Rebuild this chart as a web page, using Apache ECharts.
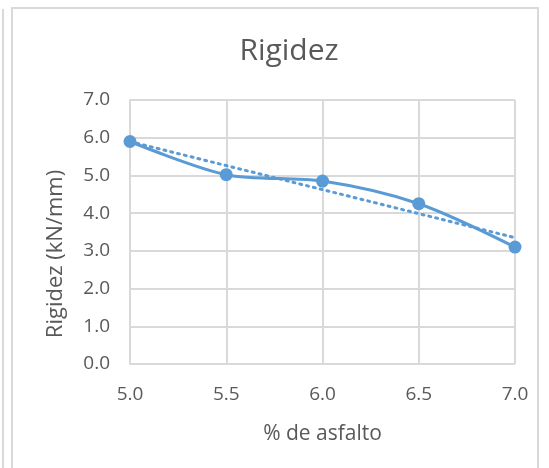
<!DOCTYPE html>
<html>
<head>
<meta charset="utf-8">
<script src="https://cdn.jsdelivr.net/npm/echarts@6/dist/echarts.min.js"></script>
<style>
  html, body { margin: 0; padding: 0; background: #fff; }
  #frame { position: absolute; left: 11px; top: 7px; width: 528px; height: 470px; border: 2px solid #d9d9d9; box-sizing: border-box; }
  #side { position: absolute; left: 2px; top: 9px; width: 2px; height: 470px; background: #d9d9d9; }
  #chart { position: absolute; left: 0; top: 0; width: 549px; height: 468px; }
</style>
</head>
<body>
<div id="side"></div>
<div id="frame"></div>
<div id="chart"></div>
<script>
// Asphalt content (%) and measured stiffness (kN/mm)
const asfalto = [5.0, 5.5, 6.0, 6.5, 7.0];
const rigidez = [5.9, 5.02, 4.85, 4.25, 3.1];
const yTicks = [0, 1, 2, 3, 4, 5, 6, 7];

// Least-squares linear trend through the measured points
const n = asfalto.length;
const mx = asfalto.reduce((a, b) => a + b, 0) / n;
const my = rigidez.reduce((a, b) => a + b, 0) / n;
let sxy = 0, sxx = 0;
for (let i = 0; i < n; i++) {
  sxy += (asfalto[i] - mx) * (rigidez[i] - my);
  sxx += (asfalto[i] - mx) * (asfalto[i] - mx);
}
const slope = sxy / sxx;
const icpt = my - slope * mx;
const xMin = asfalto[0], xMax = asfalto[n - 1];
const trend = [[xMin, icpt + slope * xMin], [xMax, icpt + slope * xMax]];

const FONT = '"Open Sans", sans-serif';
const TXT = '#595959';
const BLUE = '#5b9bd5';

const chart = echarts.init(document.getElementById('chart'));
chart.setOption({
  animation: false,
  title: {
    text: 'Rigidez',
    left: 284, top: 31, textAlign: 'center',
    textStyle: { fontFamily: FONT, fontSize: 30, fontWeight: 'normal', color: TXT }
  },
  // vertical axis title, centred on the chart body rather than the plot
  graphic: [{
    type: 'text',
    x: 56, y: 254,
    rotation: Math.PI / 2,
    style: {
      text: 'Rigidez (kN/mm)',
      fontFamily: FONT, fontSize: 22, fill: TXT,
      textAlign: 'center', textVerticalAlign: 'middle'
    }
  }],
  grid: { left: 130, right: 34, top: 100, bottom: 104, containLabel: false },
  xAxis: {
    type: 'value', min: 5, max: 7, interval: 0.5,
    name: '% de asfalto', nameLocation: 'middle', nameGap: 60,
    nameTextStyle: { fontFamily: FONT, fontSize: 21, color: TXT },
    axisLine: { show: false },
    axisTick: { show: false },
    axisLabel: { fontFamily: FONT, fontSize: 19, color: TXT, margin: 21,
      formatter: v => v.toFixed(1) },
    splitLine: { show: true, lineStyle: { color: '#d9d9d9', width: 2 } }
  },
  yAxis: {
    type: 'value', min: yTicks[0], max: yTicks[yTicks.length - 1], interval: 1,
    axisLine: { show: true, lineStyle: { color: '#d9d9d9', width: 2 } },
    axisTick: { show: false },
    axisLabel: { fontFamily: FONT, fontSize: 19, color: TXT, margin: 20,
      formatter: v => v.toFixed(1) },
    splitLine: { show: true, lineStyle: { color: '#d9d9d9', width: 2 } }
  },
  series: [
    {
      type: 'line',
      data: trend,
      symbol: 'none',
      lineStyle: { color: BLUE, width: 3, type: [2, 5], cap: 'round' },
      z: 2
    },
    {
      type: 'line',
      data: asfalto.map((x, i) => [x, rigidez[i]]),
      smooth: 0.3,
      symbol: 'circle', symbolSize: 13,
      itemStyle: { color: BLUE },
      lineStyle: { color: BLUE, width: 3 },
      z: 3
    }
  ]
});
</script>
</body>
</html>
